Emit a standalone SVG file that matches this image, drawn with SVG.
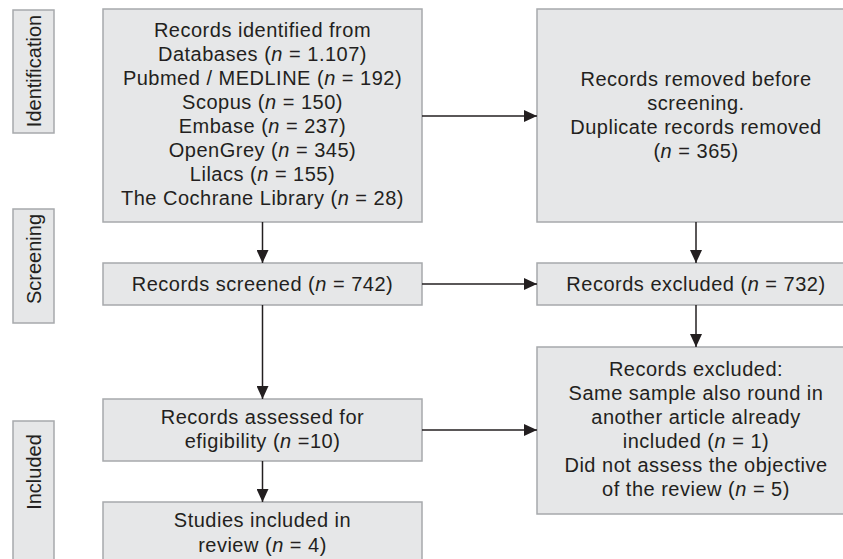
<svg xmlns="http://www.w3.org/2000/svg" width="843" height="559" viewBox="0 0 843 559">
<style>
.box{fill:#e6e7e8;stroke:#a7a9ac;stroke-width:1.5}
.t{font-family:"Liberation Sans",Arial,sans-serif;font-size:20px;letter-spacing:0.5px;fill:#231f20;text-anchor:middle}
.s{font-family:"Liberation Sans",Arial,sans-serif;font-size:20px;fill:#231f20;text-anchor:middle}
.i{font-style:italic}
.ln{stroke:#231f20;stroke-width:1.5;fill:none}
</style>
<defs>
<marker id="ah" markerWidth="13" markerHeight="12" refX="13" refY="6" orient="auto" markerUnits="userSpaceOnUse">
<path d="M0,0 L13,6 L0,12 Z" fill="#231f20"/>
</marker>
</defs>
<rect width="843" height="559" fill="#ffffff"/>
<g id="phase-identification">
<rect class="box" x="13" y="10" width="41" height="123"/>
<text class="s" transform="translate(41,71) rotate(-90)">Identification</text>
</g>
<g id="phase-screening">
<rect class="box" x="13" y="209" width="41" height="114"/>
<text class="s" transform="translate(41,259) rotate(-90)">Screening</text>
</g>
<g id="phase-included">
<rect class="box" x="13" y="421" width="41" height="150"/>
<text class="s" transform="translate(41,472) rotate(-90)">Included</text>
</g>
<g id="identified">
<rect class="box" x="103" y="9" width="319" height="213"/>
<text class="t" x="262.5" y="37">Records identified from</text>
<text class="t" x="262.5" y="61">Databases (<tspan class="i">n</tspan> = 1.107)</text>
<text class="t" x="262.5" y="85">Pubmed / MEDLINE (<tspan class="i">n</tspan> = 192)</text>
<text class="t" x="262.5" y="109">Scopus (<tspan class="i">n</tspan> = 150)</text>
<text class="t" x="262.5" y="133">Embase (<tspan class="i">n</tspan> = 237)</text>
<text class="t" x="262.5" y="157">OpenGrey (<tspan class="i">n</tspan> = 345)</text>
<text class="t" x="262.5" y="181">Lilacs (<tspan class="i">n</tspan> = 155)</text>
<text class="t" x="262.5" y="205">The Cochrane Library (<tspan class="i">n</tspan> = 28)</text>
</g>
<g id="removed">
<rect class="box" x="537" y="9" width="318" height="213"/>
<text class="t" x="696" y="86">Records removed before</text>
<text class="t" x="696" y="110">screening.</text>
<text class="t" x="696" y="134">Duplicate records removed</text>
<text class="t" x="696" y="158">(<tspan class="i">n</tspan> = 365)</text>
</g>
<g id="screened">
<rect class="box" x="103" y="263" width="319" height="42"/>
<text class="t" x="262.5" y="291">Records screened (<tspan class="i">n</tspan> = 742)</text>
</g>
<g id="excluded1">
<rect class="box" x="537" y="263" width="318" height="42"/>
<text class="t" x="696" y="291">Records excluded (<tspan class="i">n</tspan> = 732)</text>
</g>
<g id="assessed">
<rect class="box" x="103" y="399" width="319" height="62"/>
<text class="t" x="262.5" y="424">Records assessed for</text>
<text class="t" x="262.5" y="448">efigibility (<tspan class="i">n</tspan> =10)</text>
</g>
<g id="excluded2">
<rect class="box" x="537" y="347" width="318" height="167"/>
<text class="t" x="696" y="376">Records excluded:</text>
<text class="t" x="696" y="400">Same sample also round in</text>
<text class="t" x="696" y="424">another article already</text>
<text class="t" x="696" y="448">included (<tspan class="i">n</tspan> = 1)</text>
<text class="t" x="696" y="472">Did not assess the objective</text>
<text class="t" x="696" y="496">of the review (<tspan class="i">n</tspan> = 5)</text>
</g>
<g id="included">
<rect class="box" x="103" y="502" width="319" height="70"/>
<text class="t" x="262.5" y="527">Studies included in</text>
<text class="t" x="262.5" y="552">review (<tspan class="i">n</tspan> = 4)</text>
</g>
<g id="connectors">
<line class="ln" x1="422" y1="116" x2="537" y2="116" marker-end="url(#ah)"/>
<line class="ln" x1="262.5" y1="222" x2="262.5" y2="263" marker-end="url(#ah)"/>
<line class="ln" x1="696" y1="222" x2="696" y2="263" marker-end="url(#ah)"/>
<line class="ln" x1="422" y1="284" x2="537" y2="284" marker-end="url(#ah)"/>
<line class="ln" x1="262.5" y1="305" x2="262.5" y2="399" marker-end="url(#ah)"/>
<line class="ln" x1="696" y1="305" x2="696" y2="347" marker-end="url(#ah)"/>
<line class="ln" x1="422" y1="430" x2="537" y2="430" marker-end="url(#ah)"/>
<line class="ln" x1="262.5" y1="461" x2="262.5" y2="502" marker-end="url(#ah)"/>
</g>
</svg>
